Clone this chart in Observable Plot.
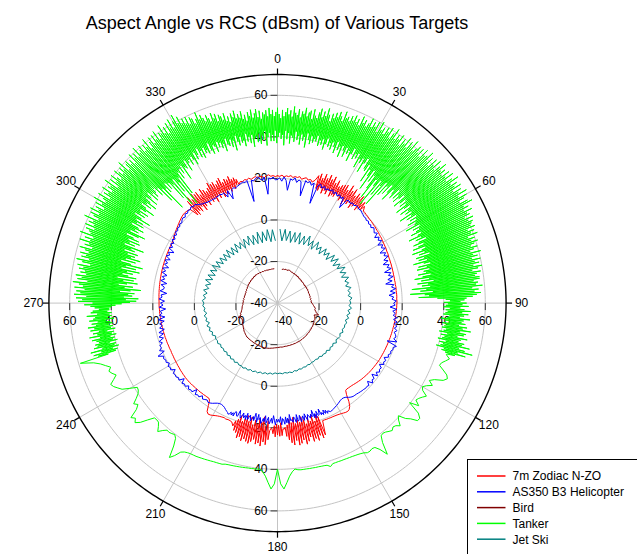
<!DOCTYPE html>
<html>
<head>
<meta charset="utf-8">
<script src="https://cdn.jsdelivr.net/npm/d3@7"></script>
<script src="https://cdn.jsdelivr.net/npm/@observablehq/plot@0.6"></script>
<style>
  html,body{margin:0;padding:0;background:#fff;}
  #wrap{position:relative;width:637px;height:554px;overflow:hidden;font-family:"Liberation Sans",Arial,sans-serif;}
  #chart{position:absolute;left:0;top:0;}
  .overlay{position:absolute;left:0;top:0;pointer-events:none;font-family:"Liberation Sans",Arial,sans-serif;}
</style>
</head>
<body>
<div id="wrap">
  <div id="chart"></div>
  <svg class="overlay" id="overlay" width="637" height="554"></svg>
</div>
<script>
// ---------------- DATA ----------------
const title = "Aspect Angle vs RCS (dBsm) of Various Targets";
const seriesNames = ["7m Zodiac N-ZO", "AS350 B3 Helicopter", "Bird", "Tanker", "Jet Ski"];
const seriesColors = ["#ff0000", "#0000ff", "#800000", "#00ff00", "#008080"];
const angleTicks = [0, 30, 60, 90, 120, 150, 180, 210, 240, 270, 300, 330];
const radialTicks = [-20, 0, 20, 40, 60];
const radialMin = -40, radialMax = 70;

// ---- 7m Zodiac N-ZO (dBsm), piecewise by aspect angle ----
const zodiacA = [ // 0..17, step 1
21.3,21.0,21.6,20.8,21.4,21.1,21.7,20.9,21.5,21.2,21.8,20.7,21.4,21.9,21.0,21.6,20.6,21.8];
const zodiacNE = [ // 18..42, step 0.5
24.5,18.2,25.8,17.5,23.9,19.1,26.4,16.8,24.7,18.6,
26.9,17.2,25.1,19.4,27.0,16.9,24.2,18.0,26.1,17.8,
23.5,19.6,24.8,18.9,25.6,17.4,26.2,19.0,24.1,16.6,
27.3,18.4,25.0,17.9,26.7,19.3,23.8,17.1,25.9,18.7,
24.6,19.8,26.0,18.1,23.4,19.5,24.2,20.1,22.6];
const zodiacB = [ // 43..159, step 1
20.6,20.5,20.3,20.2,20.0,19.9,19.9,19.7,19.6,19.6,19.4,19.3,19.3,19.1,19.0,19.0,18.8,18.7,
18.6,18.5,18.5,18.3,18.2,18.2,18.0,17.9,17.9,17.8,17.8,17.7,17.7,17.6,17.6,17.5,17.5,17.5,17.4,17.5,17.4,17.5,17.5,17.4,17.5,17.5,17.5,17.4,17.5,17.5,
17.4,17.4,17.3,17.3,17.3,17.2,17.2,17.1,17.1,17.0,17.0,16.9,16.9,16.8,16.8,16.7,16.7,16.6,16.6,16.5,16.5,16.4,16.4,16.3,16.3,16.2,16.2,16.1,16.1,16.0,
15.9,15.8,15.7,15.6,15.5,15.4,15.3,15.2,15.0,14.9,14.7,14.6,14.4,14.2,14.0,13.8,13.6,13.4,13.3,13.2,13.1,13.3,
15.2,18.4,20.6,21.7,22.1,22.0,21.7,21.4,21.2,21.0,20.9,20.8,20.8,20.7,20.7,20.6,20.6];
const zodiacS = [ // 160..200, step 0.5
27.5,17.8,28.6,16.3,26.9,19.5,29.1,15.9,27.8,18.9,
28.9,16.6,26.4,19.7,28.2,17.4,29.4,15.8,27.1,18.3,
28.5,16.9,29.2,18.6,26.8,15.5,28.8,17.9,27.6,16.2,
26.1,18.8,24.3,19.9,20.8,20.5,
23.8,17.6,24.1,18.8,23.5,18.2,24.4,19.0,22.9,
20.6,20.4,21.5,
25.9,16.8,28.4,19.6,27.2,15.1,29.3,17.8,28.0,16.5,
28.7,18.9,26.6,17.3,27.9,19.7,29.0,16.1,28.3,18.5,
27.4,15.9,28.6,17.6,26.9,19.2,27.8,16.7,25.5,18.8,
24.8,20.1,22.9];
const zodiacC = [ // 201..317, step 1
21.3,21.0,20.9,21.1,20.8,21.0,21.2,21.5,21.9,22.4,22.8,
23.0,22.2,19.5,17.0,16.4,
16.5,16.5,16.6,16.6,16.7,16.7,16.7,16.8,16.8,16.9,16.9,17.0,17.0,17.0,17.0,16.9,16.9,16.8,16.8,16.7,16.6,16.6,16.5,16.5,
16.4,16.4,16.3,16.3,16.3,16.2,16.3,16.3,16.3,16.4,16.4,16.4,16.5,16.5,16.5,16.6,16.6,16.6,16.7,16.7,16.7,16.8,16.8,16.8,16.9,16.9,16.9,17.0,17.0,17.0,
17.0,17.1,17.1,17.2,17.2,17.3,17.3,17.4,17.4,17.5,17.5,17.6,17.6,17.7,17.7,17.8,17.8,17.9,17.9,18.0,18.0,18.1,18.1,18.2,18.2,18.3,18.3,18.4,18.4,18.5,
18.7,19.0,19.3,19.6,19.9,20.2,20.5,20.8,21.1,21.4,21.7,22.0,22.2,22.3,22.2,22.0,21.7];
const zodiacNW = [ // 318..342, step 0.5
17.2,25.4,16.5,26.8,18.1,24.6,16.9,27.2,19.0,25.9,
16.2,26.3,17.7,24.1,18.8,26.5,17.0,25.2,19.3,23.8,
17.6,24.9,18.4,27.0,16.4,25.7,18.9,26.1,17.3,24.4,
19.5,25.8,16.8,26.6,18.2,23.9,17.5,25.1,19.1,24.3,
18.0,25.5,19.7,23.6,18.6,24.0,20.3,22.8,20.1];
const zodiacD = [ // 343..359, step 1
21.2,20.8,21.5,21.1,21.7,20.9,21.4,21.8,21.0,21.6,21.3,20.7,21.5,21.9,21.1,21.4,20.9];

// ---- AS350 B3 Helicopter (dBsm) ----
const heliA = [ // 0..154, step 1
19.5,20.3,18.7,20.8,19.2,14.5,20.1,19.6,20.9,18.8,
20.2,19.4,12.8,20.5,19.7,20.6,19.0,20.4,10.5,19.8,
20.9,19.3,20.6,19.1,20.2,19.5,20.7,19.2,20.3,19.0,
20.1,18.9,19.9,14.8,19.7,20.0,19.4,20.2,19.6,20.4,
20.3,19.8,20.0,19.5,19.2,18.8,19.0,18.4,18.9,18.1,
18.6,17.8,18.9,18.2,17.5,18.7,16.4,18.3,17.1,18.5,
15.8,17.9,16.6,18.2,14.9,17.4,16.1,17.8,15.2,17.0,
14.1,16.8,15.5,17.2,13.6,16.5,15.0,17.1,14.3,16.2,
12.9,16.7,15.4,17.3,14.6,16.9,13.8,16.0,15.1,17.2,
15.9,16.6,14.2,17.4,15.6,16.9,16.0,17.8,16.4,18.3,
17.0,18.6,17.5,19.0,17.9,18.8,19.3,18.5,20.4,15.8,
20.9,19.6,19.9,19.2,19.7,18.8,19.4,17.6,19.0,18.4,
19.1,17.2,18.9,18.5,19.3,18.0,19.5,16.9,19.0,18.6,
19.8,17.4,19.2,18.8,19.0,18.7,18.6,18.4,18.2,18.0,
17.9,17.8,17.4,16.8,16.0,15.6,15.5,15.7,16.1,16.5,
16.9,17.2,17.6,17.9,18.1];
const heliS = [ // 155..205, step 0.5
17.2,18.3,16.4,17.9,15.9,18.1,16.8,17.8,14.6,17.3,
17.5,15.2,18.4,16.1,18.0,14.1,17.2,15.8,17.6,16.3,
15.5,18.2,16.7,14.8,17.9,15.6,16.9,18.3,15.0,17.1,
17.7,14.4,18.1,16.2,15.3,17.8,16.5,17.0,13.9,18.2,
15.6,17.8,14.9,18.4,16.3,15.6,18.6,14.7,17.4,16.0,
17.3,15.8,18.6,16.4,14.2,17.9,15.5,17.1,18.3,15.1,
16.6,18.0,14.5,17.4,15.9,17.5,18.5,15.7,16.8,14.3,
18.3,16.1,14.0,17.7,15.8,17.2,18.2,15.4,16.6,17.9,
14.9,18.1,16.2,17.6,15.3,17.0,18.2,16.5,14.6,17.8,
17.7,16.0,15.9,18.4,16.9,18.3,17.0,18.1,18.5,17.9,
17.6];
const heliB = [ // 206..359, step 1
17.0,16.3,15.9,15.7,
15.8,16.2,16.8,17.5,18.0,18.3,17.6,18.1,18.6,17.4,
18.9,18.5,19.2,16.9,19.3,19.0,19.6,18.4,19.8,19.3,
20.0,17.8,20.2,19.6,20.4,20.1,20.5,18.7,20.6,20.2,
20.8,19.5,20.7,20.3,21.0,20.4,22.9,19.2,21.2,19.8,
20.3,18.6,19.9,17.4,19.3,16.8,18.8,15.9,18.0,16.5,
17.6,15.2,17.9,14.6,17.1,15.8,16.6,13.9,16.9,15.1,
16.3,14.4,17.0,15.6,16.2,13.5,16.8,15.2,15.0,16.7,
14.1,17.2,15.5,16.9,14.8,17.4,16.0,17.8,15.1,17.5,
16.3,18.0,15.7,18.2,16.8,17.9,15.4,18.6,17.2,18.8,
17.6,19.2,18.1,19.5,18.6,19.9,19.3,20.2,19.7,20.6,
20.1,20.9,21.3,20.7,21.8,21.2,22.0,21.5,22.3,21.6,
21.9,21.0,20.4,19.8,19.5,19.2,19.0,18.8,18.9,18.6,
18.8,18.9,19.1,18.7,19.0,16.3,19.2,14.5,18.9,19.3,
19.0,19.4,19.8,20.2,20.6,20.1,20.8,10.2,20.5,19.9,
20.9,21.4,20.3,19.6,21.0,12.6,20.4,19.8,20.7,19.3];

// ---- Bird (dBsm), 0..358 step 2 (null = no return) ----
const bird = [
null,null,null,null,-23.6,-23.4,-23.5,-23.2,-23.6,-23.3,
-23.1,-23.4,-23.7,-23.5,-23.9,-23.6,-24.0,-23.7,-24.1,-23.8,
-24.3,-24.0,-24.4,-24.1,-24.5,-24.2,-24.4,-24.3,-24.6,-24.2,
-24.5,-24.1,-24.4,-24.0,-24.3,-24.1,-24.4,-24.0,-24.2,-23.9,
-24.2,-23.8,-24.1,-23.6,-23.9,-23.4,-23.0,-22.6,-22.1,-21.6,
-21.8,-21.2,-20.8,-19.4,-21.5,-20.9,-20.6,-20.4,-20.6,-20.2,
-20.0,-19.9,-19.7,-19.8,-19.5,-19.6,-19.4,-19.3,-19.4,-19.1,
-19.2,-19.0,-19.1,-18.9,-19.0,-18.8,-18.9,-18.9,-18.8,-18.9,
-18.8,-18.9,-18.8,-18.9,-18.8,-18.9,-18.8,-18.7,-18.8,-18.7,
-18.6,-18.5,-18.4,-18.2,-18.1,-17.9,-17.8,-17.7,-17.6,-17.6,
-17.6,-17.7,-17.6,-17.7,-17.8,-17.7,-17.9,-17.8,-18.0,-17.9,
-18.1,-18.0,-18.3,-18.5,-18.8,-19.0,-19.4,-19.7,-20.1,-20.3,
-20.6,-20.9,-21.2,-21.3,-21.1,-19.8,-21.6,-21.4,-22.0,-22.3,
-22.6,-22.8,-22.9,-23.1,-23.4,-23.3,-23.6,-23.4,-23.8,-23.5,
-23.9,-23.7,-24.0,-23.8,-24.1,-23.7,-24.0,-23.6,-23.9,-23.5,
-23.7,-23.3,-23.6,-23.2,-23.5,-23.1,-23.4,-23.0,-23.3,-22.9,
-23.2,-22.8,-23.1,-22.9,-23.2,-23.0,-23.3,-23.1,-23.4,-23.2,
-23.4,-23.3,-23.5,-23.4,-23.5,-23.4,-23.4,-23.4,null,null];

// ---- Tanker (dBsm) ----
const tankerNoisy = [ // 253..467 (=107), step 0.25
59,45,50,41,52,40,48,42,53,39,47,41,51,40,49,43,50,39,48,41,
49,40,51,42,47,39,52,41,48,40,50,43,47,39,51,41,49,40,52,42,
48,40,50,41,47,43,51,39,49,42,48,40,52,41,47,40,50,42,49,41,
46,41,48,40,50,38,53,35,49,31,56,28,54,33,57,27,52,34,58,30,
55,32,57,29,53,36,58,31,54,26,56,34,59,30,52,37,57,33,55,28,
58,35,53,30,56,38,54,29,57,33,55,36,58,31,52,34,56,28,59,37,
53,30,57,35,55,27,58,33,54,38,56,31,59,36,53,29,57,34,55,32,
60,36,55,31,58,38,54,33,61,35,56,29,57,39,59,34,55,37,60,32,
56,38,59,33,57,36,62,40,55,34,58,31,60,39,56,35,61,37,57,33,
59,36,55,40,60,34,57,38,62,35,56,39,58,32,61,37,55,41,59,36,
57,39,61,35,56,40,59,37,58,33,62,38,55,41,60,36,57,39,61,34,
58,38,56,41,61,35,59,39,57,42,60,36,58,40,62,37,56,39,59,41,
60,36,57,40,59,31,56,38,61,25,58,37,60,34,57,39,62,35,58,38,
59,28,61,36,57,23,60,38,58,30,62,35,56,22,59,37,61,27,57,39,
61,35,58,40,62,37,57,41,60,33,59,39,63,38,58,42,61,36,57,40,
62,41,59,38,63,42,58,40,61,37,64,43,59,39,62,41,58,44,60,39,
57,42,60,38,56,43,59,40,58,41,55,39,57,44,60,40,56,38,58,42,
56,41,54,38,57,43,55,40,53,42,57,39,54,41,56,37,52,43,55,40,
54,39,52,42,55,38,51,41,53,36,50,43,54,40,52,38,55,42,51,39,
53,40,51,37,54,43,50,39,52,41,49,38,53,42,51,36,54,40,50,41,
52,38,54,42,50,37,53,41,49,39,52,43,51,36,53,40,50,42,54,38,
51,41,53,38,50,43,52,37,54,40,51,42,49,39,53,41,50,36,52,43,
54,39,51,42,53,37,50,41,55,40,52,38,51,43,54,39,50,41,53,37,
52,42,55,39,51,41,53,36,54,43,50,40,55,38,52,42,51,39,54,41,
56,40,52,43,55,38,53,41,57,39,54,42,51,37,55,40,53,43,56,39,
54,41,57,38,55,42,53,40,58,37,55,43,56,39,54,41,57,36,55,42,
58,40,55,37,57,42,54,39,59,41,56,36,58,40,55,43,57,38,60,41,
56,39,59,42,57,35,60,40,55,38,61,41,57,34,59,39,56,42,60,37,
58,36,61,40,56,31,59,38,62,35,57,28,60,39,58,33,61,37,56,30,
60,25,58,36,62,33,57,22,61,37,59,29,63,35,58,24,60,38,62,31,
59,37,62,33,58,39,63,35,60,31,61,38,64,36,59,34,62,40,58,35,
63,38,60,34,64,37,59,40,62,33,65,36,61,39,63,35,60,38,64,32,
61,36,65,39,60,33,63,37,66,35,61,38,64,31,62,37,65,34,60,39,
64,35,62,38,66,33,61,37,65,36,63,31,60,38,64,34,66,37,61,35,
63,32,60,37,64,35,61,30,62,36,59,33,63,38,60,34,62,31,61,36,
60,33,62,30,58,36,61,34,59,29,62,35,57,32,60,37,58,30,61,34,
59,31,57,35,60,28,58,33,56,36,61,30,57,34,59,29,56,35,60,32,
57,33,59,29,56,35,60,31,58,27,55,34,59,30,57,36,56,28,58,33,
58,30,55,34,57,25,56,32,59,29,54,35,57,24,55,31,58,33,56,28,
54,37,51,41,50,43,48,40,51,42,49,41,52,40,48,43,50,41,53,42,
49,41,52,40,50,43,48,42,53,39,50,41,49,43,51,40,48,42,52,41,
50,40,54,42,49,41,52,39,51,43,48,40,53,42,50,41,49,39,52,43,
51,40,55,42,50,41,53,39,57,43,50,42,54,44,49,45,45];
const tankerSmooth = [ // 107..253, step 1
45,47,45.5,44,43.5,46,48.5,49.5,48,44,
42,44.4,42,40.5,41.5,44.5,43.1,42,41.3,44,
39.6,46,48.1,48,44.9,43,39.5,41,43.5,42,
41.5,42.5,41.8,41,40.6,41,44,49.9,46,43.8,
43.5,44,44,43.2,42.8,42.5,42.3,42.1,42,41.9,
41.8,41.8,41.7,41.7,41.7,42.7,41.6,41.4,41.3,41.2,
41.2,41.1,41.1,41,41,41,40.8,40.3,41.5,43.5,
46.5,49.5,47,40,47,49.5,46.5,43.5,41.5,40.3,
40.5,40.5,40.6,40.6,40.7,40.8,40.9,41,41.1,41.2,
41.3,41.5,42,42.1,42.2,42.3,42.5,42.7,42.9,43.1,
43.3,43.5,43.6,43.7,44,44.5,45.5,48.5,50.7,45,
41.5,40.3,40.8,41.2,41,42.5,44.5,42.5,41,40.8,
41,44,47.5,49.5,48,49.5,45,43,44.5,42,
40,39,38.7,42,45.5,47,48.5,49.3,47,45,
46.5,47.5,46,48,50,53,59];

// ---- Jet Ski (dBsm), 0..358 step 2 ----
const jetski = [
null,-4.5,-10,-4.3,-9.6,-4.8,-10.2,-5,-9.5,-4.4,
-9.8,-5.2,-9.2,-4.1,-8.7,-5.5,-9.4,-4.6,-8.2,-5.8,
-9.0,-4.9,-7.9,-5.3,-8.6,-4.2,-7.4,-3.8,-7.8,-4.5,
-6.9,-3.2,-6.5,-4.0,-6.8,-3.6,-5.9,-4.4,-6.2,-3.9,
-5.6,-4.6,-5.8,-4.1,-5.2,-4.7,-5.5,-4.3,-5.9,-4.8,
-6.1,-5.0,-6.3,-5.4,-6.0,-5.7,-6.4,-5.5,-6.6,-5.9,
-6.2,-6.8,-5.8,-7.0,-6.3,-6.9,-6.1,-7.2,-6.5,-7.0,
-6.6,-7.4,-6.8,-7.3,-6.9,-7.1,-6.6,-7.0,-6.4,-6.8,
-6.2,-6.7,-6.0,-6.5,-5.8,-6.3,-6.0,-6.4,-5.9,-6.3,
-6.0,-6.4,-5.7,-6.2,-5.5,-6.0,-5.3,-5.8,-5.1,-5.6,
-4.9,-5.5,-4.7,-5.3,-4.6,-5.2,-4.9,-5.6,-4.8,-5.7,
-5.0,-5.9,-5.2,-6.1,-5.4,-6.0,-5.5,-6.2,-5.3,-5.9,
-5.6,-6.3,-5.0,-5.8,-4.6,-5.5,-4.3,-5.9,-4.5,-5.2,
-4.2,-5.6,-4.4,-5.0,-4.0,-4.6,-3.8,-5.3,-4.1,-5.8,
-3.9,-6.2,-4.3,-6.6,-3.6,-6.9,-3.9,-7.2,-4.1,-7.0,
-3.7,-7.5,-4.4,-7.8,-4.8,-8.1,-5.0,-8.4,-4.6,-8.8,
-5.2,-9.1,-4.9,-8.5,-5.6,-9.4,-5.1,-9.0,-4.7,-9.7,
-5.3,-9.9,-4.5,-10.1,-4.9,-9.6,-4.3,-10.3,-4.6,-9.8];

// ---------------- LAYOUT ----------------
const W = 637, H = 554;
const CX = 277, CY = 302.6;   // pole position in px
const K = 2.078;              // px per dB along the radius

const rad = a => a * Math.PI / 180;
const toX = (a, v) => (v - radialMin) * Math.sin(rad(a));
const toY = (a, v) => (v - radialMin) * Math.cos(rad(a));
const fx = d => d.v == null ? NaN : toX(d.a, d.v);
const fy = d => d.v == null ? NaN : toY(d.a, d.v);

const seg = (start, step, vals) => vals.map((v, i) => ({a: start + i * step, v}));
const zodiacData = [
  ...seg(0, 1, zodiacA), ...seg(18, 0.5, zodiacNE), ...seg(43, 1, zodiacB),
  ...seg(160, 0.5, zodiacS), ...seg(201, 1, zodiacC), ...seg(318, 0.5, zodiacNW),
  ...seg(343, 1, zodiacD), {a: 360, v: zodiacA[0]}
];
const heliData = [
  ...seg(0, 1, heliA), ...seg(155, 0.5, heliS), ...seg(206, 1, heliB), {a: 360, v: heliA[0]}
];
const birdData = seg(0, 2, bird);
const tankerData = [...seg(253, 0.25, tankerNoisy), ...seg(107, 1, tankerSmooth)];
const jetskiData = seg(0, 2, jetski);
const seriesData = [zodiacData, heliData, birdData, tankerData, jetskiData];

const circleAngles = d3.range(0, 360.5, 1);
const gridRings = radialTicks.flatMap(r => circleAngles.map(a => ({a, v: r, r})));
const outerRing = circleAngles.map(a => ({a, v: radialMax}));

const axisTicks = radialTicks.flatMap(v => [
  {axis: "up", v}, {axis: "down", v}, {axis: "left", v}, {axis: "right", v}
]);
const tickLen = 7 / K;
const axisPos = (d) => {
  const r = d.v - radialMin;
  if (d.axis === "up") return [0, r];
  if (d.axis === "down") return [0, -r];
  if (d.axis === "left") return [-r, 0];
  return [r, 0];
};
const vertTicks = axisTicks.filter(d => d.axis === "up" || d.axis === "down");
const horzTicks = axisTicks.filter(d => d.axis === "left" || d.axis === "right");

const marks = [
  Plot.line(gridRings, {x: fx, y: fy, z: "r", stroke: "#c4c4c4", strokeWidth: 1}),
  Plot.link(angleTicks, {x1: () => 0, y1: () => 0, x2: a => toX(a, radialMax), y2: a => toY(a, radialMax), stroke: "#c4c4c4", strokeWidth: 1}),
  Plot.line(outerRing, {x: fx, y: fy, stroke: "#000", strokeWidth: 1.4}),
  Plot.link(angleTicks, {x1: a => toX(a, radialMax), y1: a => toY(a, radialMax),
    x2: a => toX(a, radialMax + 6 / K), y2: a => toY(a, radialMax + 6 / K), stroke: "#000", strokeWidth: 1.2}),
  Plot.text(angleTicks, {x: a => toX(a, radialMax + 15.5 / K), y: a => toY(a, radialMax + 15.5 / K),
    text: a => String(a), fontSize: 12, fill: "#000"}),
  Plot.link(vertTicks, {x1: () => -tickLen, x2: () => 0, y1: d => axisPos(d)[1], y2: d => axisPos(d)[1], stroke: "#333", strokeWidth: 1}),
  Plot.link(horzTicks, {x1: d => axisPos(d)[0], x2: d => axisPos(d)[0], y1: () => 0, y2: () => -tickLen, stroke: "#333", strokeWidth: 1}),
  Plot.text(vertTicks, {x: () => 0, y: d => axisPos(d)[1], text: d => String(d.v), dx: -10, textAnchor: "end", fontSize: 12, fill: "#000"}),
  Plot.text(horzTicks, {x: d => axisPos(d)[0], y: () => 0, text: d => String(d.v), dy: 18, fontSize: 12, fill: "#000"}),
  Plot.text([radialMin], {x: () => 0, y: () => 0, text: d => String(d), dx: -10, textAnchor: "end", fontSize: 12, fill: "#000"}),
  Plot.text([radialMin], {x: () => 0, y: () => 0, text: d => String(d), dx: 6, dy: 18, fontSize: 12, fill: "#000"}),
  ...seriesData.map((data, i) => Plot.line(data, {x: fx, y: fy, stroke: seriesColors[i], strokeWidth: 1}))
];

const chart = Plot.plot({
  width: W, height: H, margin: 0,
  x: {domain: [-CX / K, (W - CX) / K], axis: null},
  y: {domain: [-(H - CY) / K, CY / K], axis: null},
  style: {fontFamily: "'Liberation Sans', Arial, sans-serif", fontSize: "12px", background: "transparent", overflow: "visible"},
  marks
});
document.getElementById("chart").appendChild(chart);

// ---------------- TITLE & LEGEND ----------------
const ov = d3.select("#overlay");
ov.append("text").attr("x", CX).attr("y", 28.5).attr("text-anchor", "middle")
  .attr("font-size", 18).attr("fill", "#000").text(title);

const lg = ov.append("g").attr("transform", "translate(467.5,459.5)");
lg.append("rect").attr("width", 200).attr("height", 120).attr("fill", "#fff").attr("stroke", "#000").attr("stroke-width", 1);
seriesNames.forEach((name, i) => {
  const yy = 16.5 + i * 15.8;
  lg.append("line").attr("x1", 9.5).attr("x2", 38).attr("y1", yy).attr("y2", yy)
    .attr("stroke", seriesColors[i]).attr("stroke-width", 1.5);
  lg.append("text").attr("x", 45).attr("y", yy + 4.3).attr("font-size", 12).attr("fill", "#000").text(name);
});
</script>
</body>
</html>
